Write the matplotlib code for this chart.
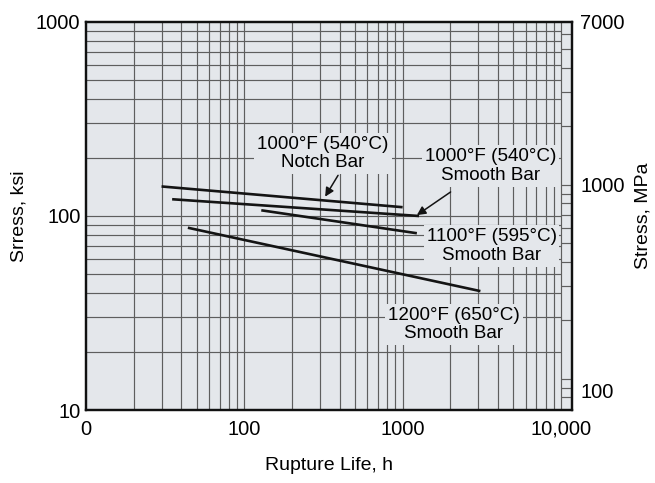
import numpy as np
import matplotlib
matplotlib.use("Agg")
import matplotlib.pyplot as plt
from matplotlib.transforms import ScaledTranslation

plt.rcParams['font.family'] = ['Liberation Sans', 'DejaVu Sans']

# rupture curves (hours, ksi)
notch_1000_h = [30, 1000]
notch_1000_ksi = [142, 111]
smooth_1000_h = [35, 1270]
smooth_1000_ksi = [122, 100]
smooth_1100_h = [128, 1230]
smooth_1100_ksi = [107, 81.5]
smooth_1200_h = [44, 3100]
smooth_1200_ksi = [87, 41]

x_ticks = [10, 100, 1000, 10000]
x_labels = ['0', '100', '1000', '10,000']
ksi_ticks = [10, 100, 1000]
mpa_ticks = [100, 1000, 6895]
mpa_labels = ['100', '1000', '7000']
KSI_TO_MPA = 6.895

bg = '#e4e7eb'
grid_c = '#5e5e5e'

fig = plt.figure(figsize=(6.55, 4.83), dpi=100)
ax = fig.add_axes([0.1313, 0.1511, 0.7420, 0.8034])
ax.set_facecolor(bg)
ax.set_xscale('log')
ax.set_yscale('log')
xmax = 10 ** 4.07
ax.set_xlim(10, xmax)
ax.set_ylim(10, 1000)

# log grid inside the main area (stops at 10,000 h)
minor = [m * d for d in [10, 100, 1000] for m in range(2, 10)]
ax.vlines(minor + [100, 1000, 10000], 10, 1000, color=grid_c, lw=0.85, zorder=1)
ksi_minor = [m * d for d in [10, 100] for m in range(2, 10)] + [100]
ax.hlines(ksi_minor, 10, 10000, color=grid_c, lw=0.85, zorder=1)

for h, s in [(notch_1000_h, notch_1000_ksi), (smooth_1000_h, smooth_1000_ksi),
             (smooth_1100_h, smooth_1100_ksi), (smooth_1200_h, smooth_1200_ksi)]:
    ax.plot(h, s, color='#141414', lw=1.9, solid_capstyle='butt', zorder=4)

ax.set_xticks(x_ticks)
ax.set_xticklabels(x_labels)
ax.set_yticks(ksi_ticks)
ax.set_yticklabels([str(v) for v in ksi_ticks])
ax.xaxis.set_minor_locator(matplotlib.ticker.NullLocator())
ax.yaxis.set_minor_locator(matplotlib.ticker.NullLocator())
ax.tick_params(axis='both', length=0, labelsize=14.5, pad=4)
ax.tick_params(axis='x', pad=7)
ax.set_xlabel('Rupture Life, h', fontsize=14, labelpad=13)
ax.set_ylabel('Srress, ksi', fontsize=14, labelpad=6)
for sp in ax.spines.values():
    sp.set_linewidth(1.6)
    sp.set_color('#111111')

# right MPa axis
ax2 = ax.twinx()
ax2.set_yscale('log')
ax2.set_ylim(10 * KSI_TO_MPA, 1000 * KSI_TO_MPA)
mpa_minor = [m * d for d in [10, 100, 1000] for m in range(2, 10)] + [100, 1000]
mpa_minor = [v for v in mpa_minor if 70 < v < 6895]
ax2.hlines(mpa_minor, 10000, xmax, color=grid_c, lw=0.85, zorder=1)
ax2.set_yticks(mpa_ticks)
ax2.set_yticklabels(mpa_labels)
ax2.yaxis.set_minor_locator(matplotlib.ticker.NullLocator())
ax2.tick_params(axis='y', length=0, labelsize=14.5, pad=6)
ax2.set_ylabel('Stress, MPa', fontsize=14)
ax2.yaxis.set_label_coords(1.128, 0.5)
for sp in ax2.spines.values():
    sp.set_linewidth(1.6)
    sp.set_color('#111111')
ax2.set_xlim(10, xmax)
# the 100 MPa label sits a little low in the original
lab = ax2.get_yticklabels()[0]
lab.set_transform(lab.get_transform() + ScaledTranslation(0, -0.12, fig.dpi_scale_trans))

box = dict(boxstyle='square,pad=0.15', facecolor=bg, edgecolor='none')
arrow = dict(arrowstyle='-|>', color='#141414', lw=1.1, mutation_scale=13,
             shrinkA=0, shrinkB=0)
fs = 13.6

ax.text(314, 210, '1000°F (540°C)\nNotch Bar', ha='center', va='center',
        fontsize=fs, linespacing=1.12, bbox=box, zorder=3)
ax.annotate('', xy=(324, 125.8), xytext=(391, 162), arrowprops=arrow, zorder=5)

ax.text(3600, 181, '1000°F (540°C)\nSmooth Bar', ha='center', va='center',
        fontsize=fs, linespacing=1.12, bbox=box, zorder=3)
ax.annotate('', xy=(1230, 101), xytext=(2010, 133), arrowprops=arrow, zorder=5)

ax.text(3650, 70, '1100°F (595°C)\nSmooth Bar', ha='center', va='center',
        fontsize=fs, linespacing=1.12, bbox=box, zorder=3)

ax.text(2110, 27.6, '1200°F (650°C)\nSmooth Bar', ha='center', va='center',
        fontsize=fs, linespacing=1.12, bbox=box, zorder=3)

fig.savefig('out.png', dpi=100)
